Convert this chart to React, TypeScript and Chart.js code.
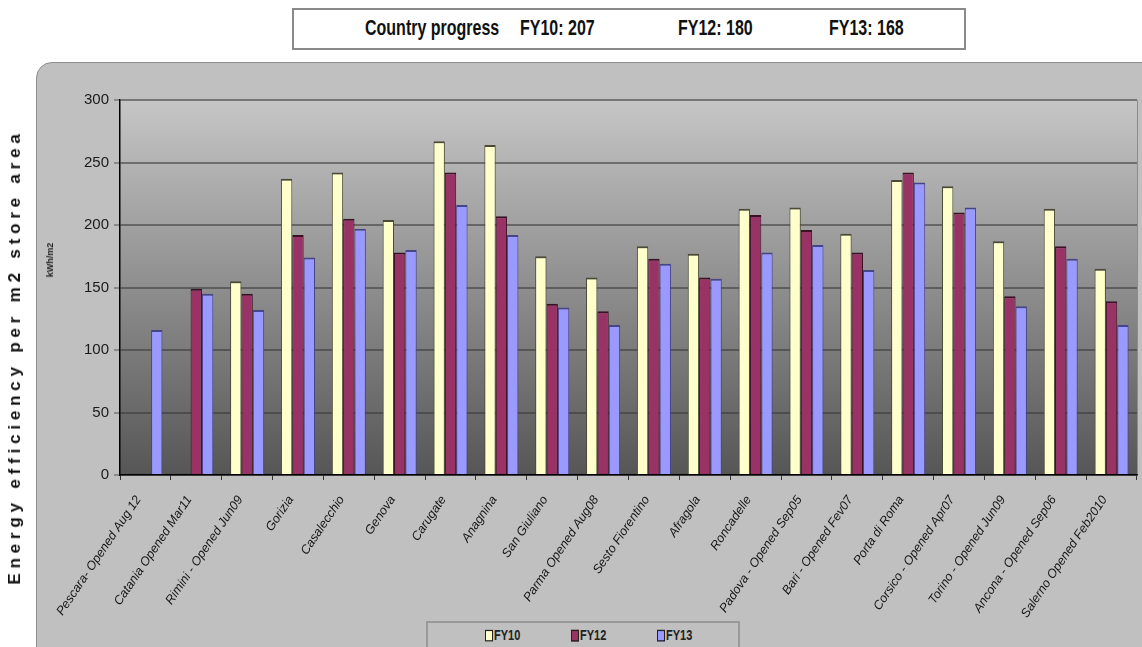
import React, { useEffect, useRef } from 'react';
import { Chart, registerables } from 'chart.js';

Chart.register(...registerables);

const categories = [
  'Pescara- Opened Aug 12',
  'Catania Opened Mar11',
  'Rimini - Opened Jun09',
  'Gorizia',
  'Casalecchio',
  'Genova',
  'Carugate',
  'Anagnina',
  'San Giuliano',
  'Parma Opened Aug08',
  'Sesto Fiorentino',
  'Afragola',
  'Roncadelle',
  'Padova - Opened Sep05',
  'Bari - Opened Fev07',
  'Porta di Roma',
  'Corsico - Opened Apr07',
  'Torino - Opened Jun09',
  'Ancona - Opened Sep06',
  'Salerno Opened Feb2010',
];

const fy10 = [null, null, 155, 237, 242, 204, 267, 264, 175, 158, 183, 177, 213, 214, 193, 236, 231, 187, 213, 165];
const fy12 = [null, 149, 145, 192, 205, 178, 242, 207, 137, 131, 173, 158, 208, 196, 178, 242, 210, 143, 183, 139];
const fy13 = [116, 145, 132, 174, 197, 180, 216, 192, 134, 120, 169, 157, 178, 184, 164, 234, 214, 135, 173, 120];

const seriesNames = ['FY10', 'FY12', 'FY13'];
const seriesColors = ['#FFFFCC', '#993366', '#9999FF'];
const seriesBorders = ['#4a4a35', '#3a1226', '#45458a'];

const progressLabel = 'Country progress';
const progressItems = ['FY10: 207', 'FY12: 180', 'FY13: 168'];

const yAxisTitle = 'Energy efficiency per m2 store area';
const yUnit = 'kWh/m2';
const yMin = 0;
const yMax = 300;
const yStep = 50;

const SANS = "'Liberation Sans', Arial, sans-serif";

const plotBackground = {
  id: 'plotBackground',
  beforeDraw(chart: any) {
    const { ctx, chartArea: a } = chart;
    if (!a) return;
    const g = ctx.createLinearGradient(0, a.top, 0, a.bottom);
    g.addColorStop(0, '#c6c6c6');
    g.addColorStop(1, '#565656');
    ctx.save();
    ctx.fillStyle = g;
    ctx.fillRect(a.left, a.top, a.right - a.left, a.bottom - a.top);
    ctx.strokeStyle = '#8c8c8c';
    ctx.lineWidth = 1;
    ctx.beginPath();
    ctx.moveTo(a.right + 0.5, a.top);
    ctx.lineTo(a.right + 0.5, a.bottom);
    ctx.stroke();
    ctx.restore();
  },
};

export default function App() {
  const canvasRef = useRef<HTMLCanvasElement | null>(null);

  useEffect(() => {
    if (!canvasRef.current) return;
    const datasets = [fy10, fy12, fy13].map((d, i) => ({
      label: seriesNames[i],
      data: d,
      backgroundColor: seriesColors[i],
      borderColor: seriesBorders[i],
      borderWidth: { top: 2, left: 1, right: 1, bottom: 0 },
      borderSkipped: false,
      categoryPercentage: 0.67,
      barPercentage: 1.0,
    }));
    const chart = new Chart(canvasRef.current, {
      type: 'bar',
      data: { labels: categories, datasets: datasets as any },
      plugins: [plotBackground],
      options: {
        responsive: false,
        animation: false,
        devicePixelRatio: 1,
        layout: { padding: { left: 0, right: 5, top: 100, bottom: 0 } },
        plugins: {
          legend: { display: false },
          tooltip: { enabled: false },
          title: { display: false },
        },
        scales: {
          x: {
            grid: {
              display: true,
              drawOnChartArea: false,
              drawTicks: true,
              tickLength: 5,
              tickColor: '#333',
              offset: true,
            },
            border: { display: true, color: '#000', width: 1.5 },
            ticks: {
              autoSkip: false,
              minRotation: 56,
              maxRotation: 56,
              padding: 13,
              labelOffset: -7,
              color: '#151515',
              font: { family: SANS, size: 12.5, style: 'italic' },
            },
            afterFit: (s: any) => {
              s.height = 172;
            },
          },
          y: {
            min: yMin,
            max: yMax,
            ticks: {
              stepSize: yStep,
              padding: 5,
              color: '#1a1a1a',
              font: { family: SANS, size: 15 },
            },
            grid: {
              color: 'rgba(55,55,55,0.55)',
              lineWidth: 2,
              tickLength: 6,
              tickWidth: 1,
              tickColor: '#555',
            },
            border: { display: true, color: '#000', width: 1.5 },
            afterFit: (s: any) => {
              s.width = 120;
            },
          },
        },
      } as any,
    });
    return () => chart.destroy();
  }, []);

  const progressX = [520, 678, 829];
  const legendX = [485, 571, 657];

  return (
    <div
      style={{
        position: 'absolute',
        left: 0,
        top: 0,
        width: 1142,
        height: 647,
        background: '#ffffff',
        overflow: 'hidden',
      }}
    >
      <div
        style={{
          position: 'absolute',
          left: 36,
          top: 62,
          width: 1140,
          height: 640,
          background: '#c0c0c0',
          border: '1px solid #8e8e8e',
          borderRadius: 16,
        }}
      />
      <canvas
        ref={canvasRef}
        width={1142}
        height={647}
        style={{ position: 'absolute', left: 0, top: 0, width: 1142, height: 647 }}
      />
      <div
        style={{
          position: 'absolute',
          left: 292,
          top: 8,
          width: 670,
          height: 38,
          background: '#ffffff',
          border: '2px solid #8a8a8a',
          fontFamily: SANS,
          fontWeight: 'bold',
          fontSize: 16,
          color: '#111',
        }}
      >
        {[progressLabel, ...progressItems].map((t, i) => (
          <span
            key={t}
            style={{
              position: 'absolute',
              left: [365, ...progressX][i] - 294,
              top: 9,
              whiteSpace: 'nowrap',
              lineHeight: '18px',
              transform: 'scaleY(1.4)',
              transformOrigin: 'left center',
            }}
          >
            {t}
          </span>
        ))}
      </div>
      <div
        style={{
          position: 'absolute',
          left: 15,
          top: 357,
          transform: 'translate(-50%, -50%) rotate(-90deg)',
          whiteSpace: 'nowrap',
          fontFamily: SANS,
          fontWeight: 'bold',
          fontSize: 17,
          letterSpacing: 4.8,
          color: '#111',
        }}
      >
        {yAxisTitle}
      </div>
      <div
        style={{
          position: 'absolute',
          left: 50,
          top: 260,
          transform: 'translate(-50%, -50%) rotate(-90deg)',
          whiteSpace: 'nowrap',
          fontFamily: SANS,
          fontWeight: 'bold',
          fontSize: 9,
          color: '#222',
        }}
      >
        {yUnit}
      </div>
      <div
        style={{
          position: 'absolute',
          left: 426,
          top: 621,
          width: 310,
          height: 30,
          background: '#c0c0c0',
          border: '2px solid #9a9a9a',
        }}
      >
        {seriesNames.map((n, i) => (
          <div
            key={n}
            style={{
              position: 'absolute',
              left: legendX[i] - 428,
              top: 6,
              display: 'flex',
              alignItems: 'center',
              fontFamily: SANS,
              fontWeight: 'bold',
              fontSize: 11,
              lineHeight: '12px',
              color: '#222',
              transform: 'scaleY(1.3)',
              transformOrigin: 'left center',
            }}
          >
            <span
              style={{
                display: 'inline-block',
                width: 6,
                height: 7,
                background: seriesColors[i],
                border: '1px solid #222',
                marginRight: 1,
              }}
            />
            {n}
          </div>
        ))}
      </div>
    </div>
  );
}
